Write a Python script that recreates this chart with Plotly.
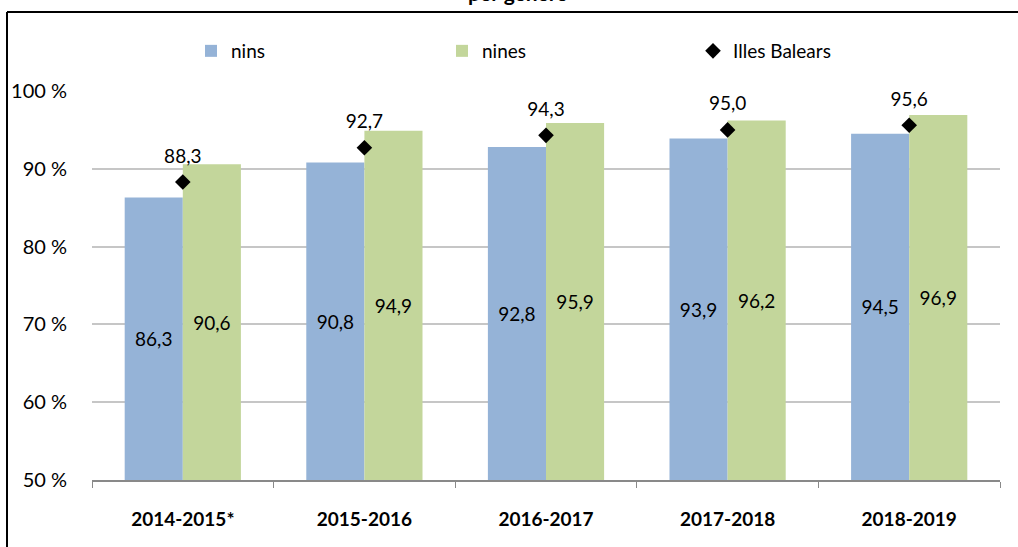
import plotly.graph_objects as go

COURSES = ["2014-2015*", "2015-2016", "2016-2017", "2017-2018", "2018-2019"]
NINS = [86.3, 90.8, 92.8, 93.9, 94.5]
NINES = [90.6, 94.9, 95.9, 96.2, 96.9]
BALEARS = [88.3, 92.7, 94.3, 95.0, 95.6]
AXIS_MIN = 50

FONT = "Lato, 'Open Sans', sans-serif"
BLUE = "#95b3d7"
GREEN = "#c3d69b"

# plot area in pixels, used for placing the outer frame and title
W, H = 1018, 547
L, R, T, B = 92, 18, 91, 67
PW, PH = W - L - R, H - T - B


def px_x(x):
  return (x - L) / PW


def px_y(y):
  return (H - B - y) / PH


def bar_trace(name, values, color):
  # bars start at the axis minimum so the labels sit in the visible middle
  return go.Bar(
    x=COURSES,
    y=[v - AXIS_MIN for v in values],
    base=AXIS_MIN,
    customdata=values,
    name=name,
    marker=dict(color=color, line=dict(width=0)),
    texttemplate="%{customdata:.1f}",
    textposition="inside",
    insidetextanchor="middle",
    textangle=0,
    textfont=dict(size=19, color="#000000", family=FONT),
    hovertemplate="%{x}: %{customdata:.1f}<extra>" + name + "</extra>",
  )


fig = go.Figure()
fig.add_trace(bar_trace("nins", NINS, BLUE))
fig.add_trace(bar_trace("nines", NINES, GREEN))
fig.add_trace(
  go.Scatter(
    x=COURSES,
    y=BALEARS,
    name="Illes Balears",
    mode="markers",
    marker=dict(symbol="diamond", size=12, color="#000000"),
  )
)
fig.add_trace(
  go.Scatter(
    x=COURSES,
    y=BALEARS,
    mode="markers+text",
    marker=dict(size=22, opacity=0),
    texttemplate="%{y:.1f}",
    textposition="top center",
    textfont=dict(size=19, color="#000000", family=FONT),
    showlegend=False,
    hoverinfo="skip",
  )
)

frame_line = dict(color="#000000", width=2)

fig.update_layout(
  width=W,
  height=H,
  margin=dict(l=L, r=R, t=T, b=B),
  separators=",.",
  paper_bgcolor="#ffffff",
  plot_bgcolor="#ffffff",
  font=dict(family=FONT, size=19, color="#000000"),
  barmode="group",
  bargap=0.36,
  bargroupgap=0,
  showlegend=True,
  legend=dict(
    orientation="h",
    x=px_x(191),
    y=px_y(32),
    xanchor="left",
    yanchor="top",
    entrywidth=206,
    font=dict(size=19, family=FONT),
    bgcolor="rgba(0,0,0,0)",
  ),
  xaxis=dict(
    showgrid=False,
    showline=True,
    linecolor="#898989",
    linewidth=2,
    ticks="outside",
    tickson="boundaries",
    ticklen=6,
    tickcolor="#898989",
    tickfont=dict(size=19, family=FONT, weight="bold"),
    ticklabelstandoff=21,
  ),
  yaxis=dict(
    range=[AXIS_MIN, 100],
    dtick=10,
    ticksuffix=" %",
    showgrid=True,
    gridcolor="#c6c6c6",
    gridwidth=2,
    zeroline=False,
    showline=False,
    tickfont=dict(size=20, family=FONT),
    ticklabelstandoff=24,
  ),
  # the chart frame is only visible along the top and the left edge
  shapes=[
    dict(type="line", xref="paper", yref="paper",
         x0=px_x(7), x1=px_x(W + 5), y0=px_y(12), y1=px_y(12), line=frame_line),
    dict(type="line", xref="paper", yref="paper",
         x0=px_x(7), x1=px_x(7), y0=px_y(12), y1=px_y(H + 5), line=frame_line),
  ],
  annotations=[
    dict(
      text="<b>per gènere</b>",
      xref="paper",
      yref="paper",
      x=px_x(518),
      y=px_y(7),
      xanchor="center",
      yanchor="bottom",
      showarrow=False,
      font=dict(size=21, family=FONT),
    )
  ],
)

fig.write_html(
  "out.html",
  config={"displayModeBar": False},
  post_script="document.body.style.margin='0';document.body.style.overflow='hidden';",
)
